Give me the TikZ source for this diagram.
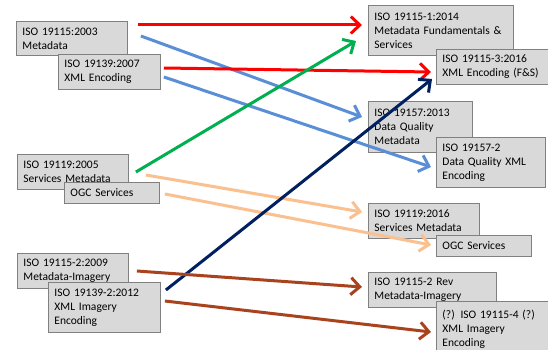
\documentclass[tikz,border=0pt]{standalone}
\usepackage{fontspec}
\setmainfont{Carlito}
\usetikzlibrary{arrows.meta,calc}
\definecolor{boxfill}{HTML}{D9D9D9}
\definecolor{boxline}{HTML}{808080}
\definecolor{cred}{HTML}{FF0000}
\definecolor{cblue}{HTML}{5A8FD8}
\definecolor{cgreen}{HTML}{00B050}
\definecolor{corange}{HTML}{FAC090}
\definecolor{cnavy}{HTML}{002060}
\definecolor{cbrown}{HTML}{A9431E}
\tikzset{
  stdbox/.style={draw=boxline, fill=boxfill, line width=0.9pt, anchor=north west,
    align=left, inner xsep=6pt, inner ysep=0pt,
    font=\fontsize{11.5pt}{14pt}\selectfont},
  conn/.style={line width=3pt, -{Straight Barb[length=9pt,width=17pt,line width=3pt]}},
}
\newcommand{\stdnode}[6]{%
  \node[stdbox, minimum width=#4-#2, minimum height=#5-#3, text width=#4-#2-12] (#1) at (#2,#3) {#6};}
\begin{document}
\begin{tikzpicture}[x=1pt,y=-1pt]
\useasboundingbox (0,0) rectangle (548,350);
\fill[white] (0,0) rectangle (548,350);
% left boxes
\stdnode{A}{16}{21}{127}{55}{ISO 19115:2003\\Metadata}
\stdnode{B}{58}{54}{160}{89}{ISO 19139:2007\\XML Encoding}
\stdnode{C}{17}{154}{128}{189}{ISO 19119:2005\\Services Metadata}
\stdnode{D}{64}{182}{159}{203}{OGC Services}
\stdnode{E}{17}{253}{128}{288}{ISO 19115-2:2009\\Metadata-Imagery}
\stdnode{F}{48}{282}{160}{332}{ISO 19139-2:2012\\XML Imagery\\Encoding}
% right boxes
\stdnode{G}{368}{5}{513}{55}{ISO 19115-1:2014\\Metadata Fundamentals \&\\Services}
\stdnode{H}{436}{49}{551}{84}{ISO 19115-3:2016\\XML Encoding (F\&S)}
\stdnode{I}{368}{101}{472}{152}{ISO 19157:2013\\Data Quality\\Metadata}
\stdnode{J}{436}{137}{545}{187}{ISO 19157-2\\Data Quality XML\\Encoding}
\stdnode{K}{368}{203}{479}{238}{ISO 19119:2016\\Services Metadata}
\stdnode{L}{436}{235}{531}{256}{OGC Services}
\stdnode{M}{368}{272}{496}{307}{ISO 19115-2 Rev\\Metadata-Imagery}
\stdnode{N}{436}{301}{553}{356}{(?) ISO 19115-4 (?)\\XML Imagery\\Encoding}
% connectors
\draw[conn, cred]    ($(A.north east)+(10,4)$)  -- ($(G.north west)+(-6,20)$);
\draw[conn, cblue]   ($(A.north east)+(13,15)$) -- ($(I.north west)+(-6,16)$);
\draw[conn, cred]    ($(B.north east)+(3,14)$)  -- ($(H.north west)+(-5,23)$);
\draw[conn, cblue]   ($(B.north east)+(3,23)$)  -- ($(J.north west)+(-5,30)$);
\draw[conn, cgreen]  ($(C.north east)+(7,18)$)  -- ($(G.north west)+(-12,36)$);
\draw[conn, corange] ($(C.north east)+(17,21)$) -- ($(K.north west)+(-6,9)$);
\draw[conn, corange] ($(D.north east)+(5,12)$)  -- ($(L.north west)+(-5,10)$);
\draw[conn, cnavy]   ($(F.north east)+(5,8)$)   -- ($(H.north west)+(-4,30)$);
\draw[conn, cbrown]  ($(E.north east)+(8,18)$)  -- ($(M.north west)+(-6,15)$);
\draw[conn, cbrown]  ($(F.north east)+(4,19)$)  -- ($(N.north west)+(-5,31)$);
\end{tikzpicture}
\end{document}
